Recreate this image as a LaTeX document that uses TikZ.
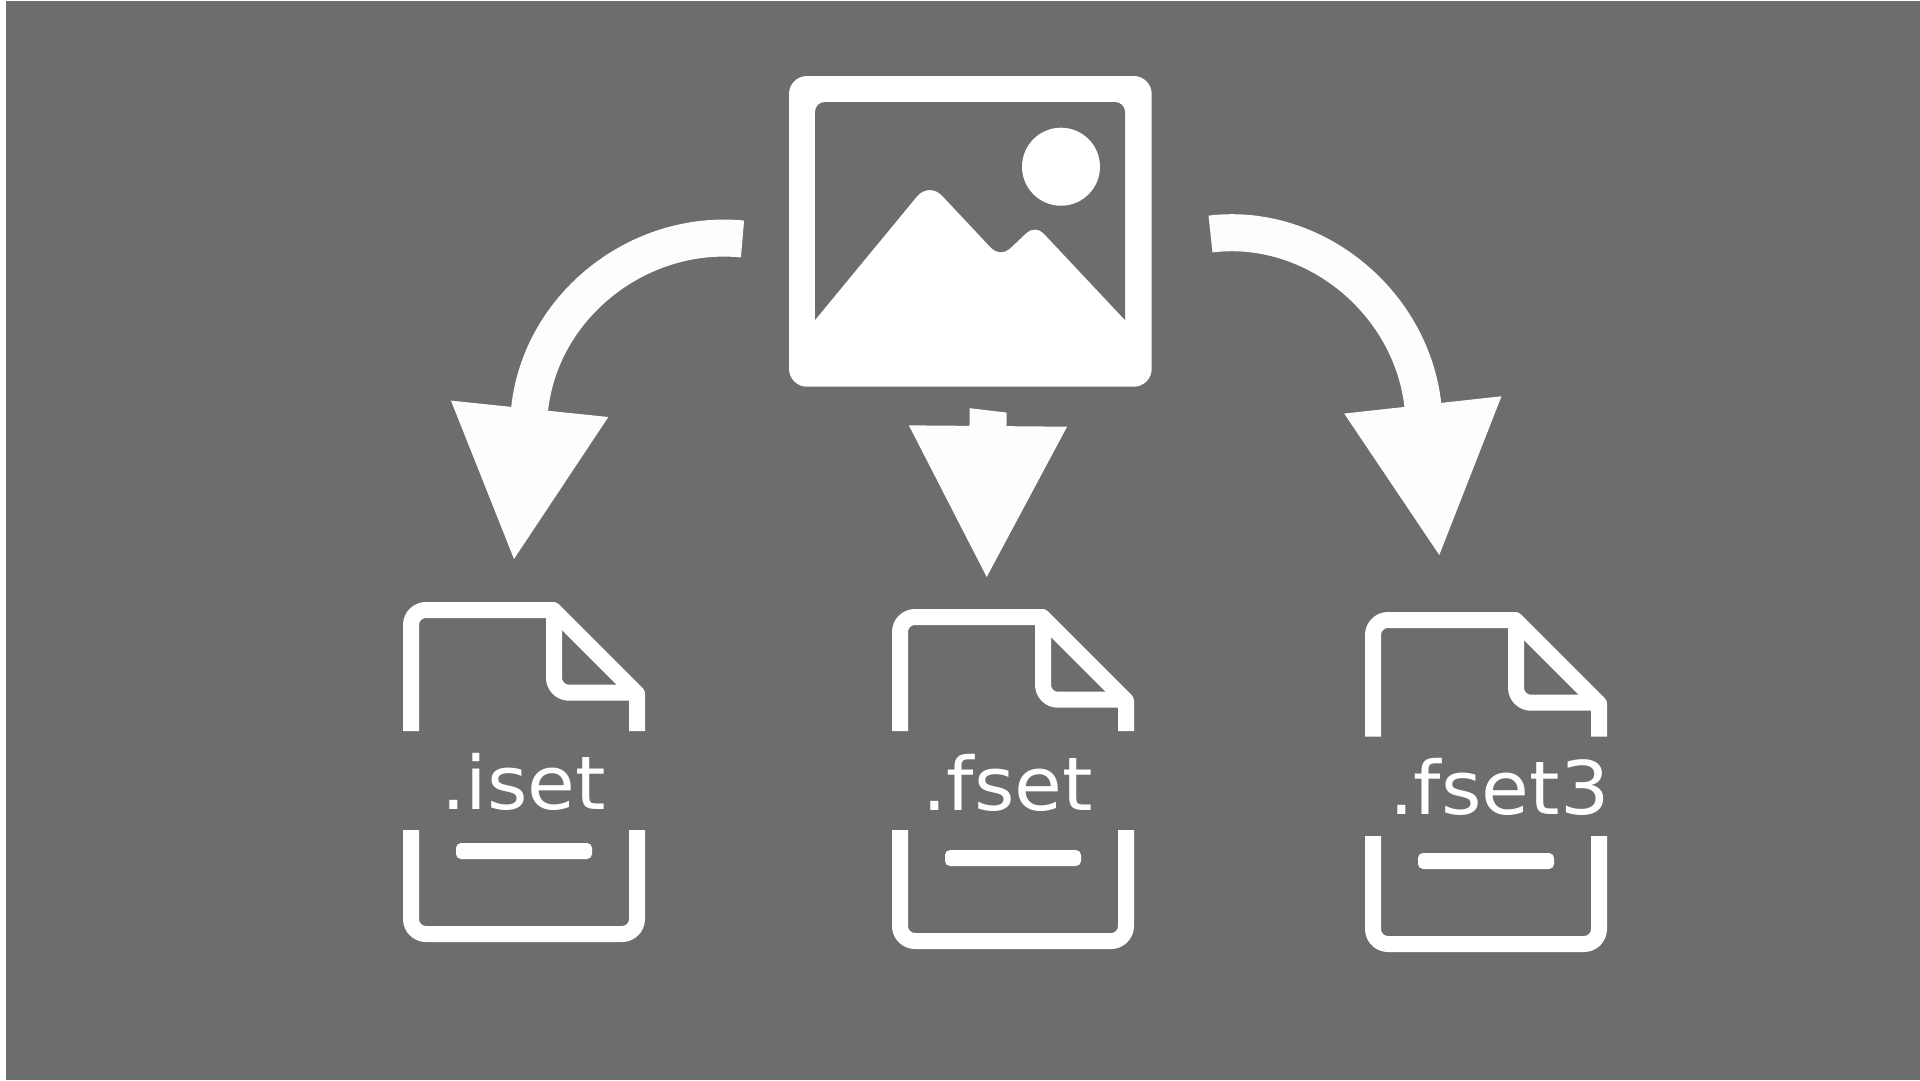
\documentclass[tikz,border=0pt]{standalone}
\usepackage{fontspec}
\newfontfamily\labelfont[FakeStretch=1.05]{DejaVu Sans}
\usetikzlibrary{arrows.meta}
\definecolor{panelgray}{HTML}{6D6D6D}
\definecolor{arrowwhite}{HTML}{FEFDFB}

\begin{document}
\begin{tikzpicture}[x=1pt,y=-1pt]
\tikzstyle{imgbox}=[rectangle,rounded corners=18pt,fill=white,minimum width=362.7pt,minimum height=310.7pt,inner sep=0pt]
\tikzstyle{sun}=[circle,fill=white,minimum size=78pt,inner sep=0pt]
\tikzstyle{fileline}=[draw=white,line width=16pt,line join=round]
\tikzstyle{filelabel}=[anchor=base west,inner sep=0pt,text=white,font=\labelfont\fontsize{74pt}{80pt}\selectfont]
\tikzstyle{bigarrow}=[draw=arrowwhite,line width=37pt,-{Triangle[length=151pt,width=157.5pt,line width=3pt,fill=arrowwhite]}]
\useasboundingbox (0,0) rectangle (1920,1080);
\fill[white] (0,0) rectangle (1920,1080);
\fill[panelgray] (6,1) rectangle (1920,1080);
% picture icon
\node[imgbox] (img) at (970.35,231.35) {};
\fill[panelgray] (815,320) [rounded corners=10pt] -- (815,102) -- (1125,102) [sharp corners] -- (1125,320)
	[rounded corners=12pt] -- (1035.3,224.5) [rounded corners=13pt] -- (1000.3,257.6) [rounded corners=19pt] -- (929,181.7) [sharp corners] -- cycle;
\node[sun] (sun) at (1061,166.7) {};
% files
\foreach \name/\point/\gaptop/\gapbot/\lbl/\lblpos in {
	iset/{403,602}/129/228/.iset/{441,809},
	fset/{892,609}/122/221/.fset/{922,810},
	fsetb/{1365,612}/124.7/224/.fset3/{1389,814}}
{
	\begin{scope}[shift={(\point)}]
	\draw[fileline] (8,\gaptop) [rounded corners=15pt] -- (8,8) [sharp corners] -- (150.3,8) -- (234,91.7) -- (234,\gaptop);
	\draw[fileline] (151,8) [rounded corners=15pt] -- (151,90.7) [sharp corners] -- (234,90.7);
	\draw[fileline,rounded corners=15pt] (8,\gapbot) -- (8,332) -- (234,332) -- (234,\gapbot);
	\fill[white,rounded corners=5pt] (53,241) rectangle (189,257);
	\end{scope}
	\node[filelabel] (\name) at (\lblpos) {\lbl};
}
% arrows
\coordinate (leftstart) at (742.5,239);
\coordinate (lefttip) at (514,559);
\coordinate (midstart) at (988.2,400);
\coordinate (midtip) at (986.7,577);
\coordinate (rightstart) at (1210.5,234);
\coordinate (righttip) at (1439.3,555);
\draw[bigarrow] (leftstart) .. controls (639,228.7) and (540.4,305.6) .. (lefttip);
\begin{scope}
\clip (900,399.9) -- (1080,421.3) -- (1080,590) -- (900,590) -- cycle;
\draw[bigarrow] (midstart) -- (midtip);
\end{scope}
\draw[bigarrow] (rightstart) .. controls (1313.7,221.5) and (1411.5,301.7) .. (righttip);
\end{tikzpicture}
\end{document}
